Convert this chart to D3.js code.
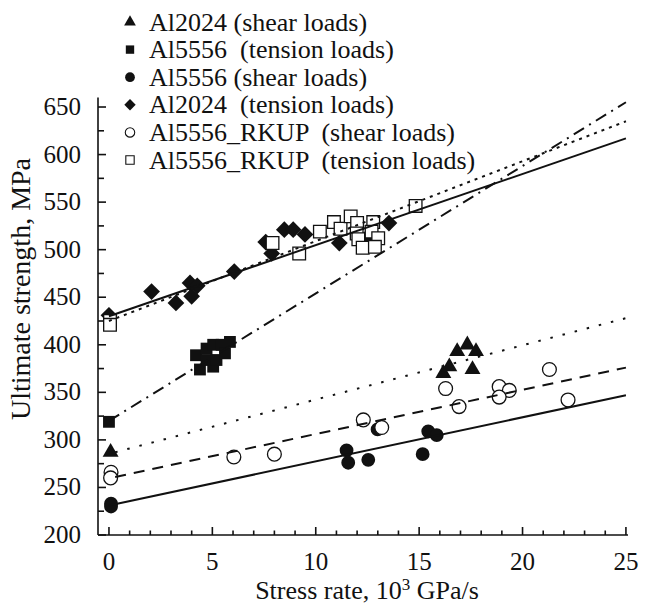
<!DOCTYPE html>
<html>
<head>
<meta charset="utf-8">
<script src="https://cdn.jsdelivr.net/npm/d3@7"></script>
<style>
  body { margin: 0; background: #fff; }
  svg text { fill: #111; }
</style>
</head>
<body>
<div id="chart"></div>
<script>
// values: [stress rate (10^3 GPa/s), ultimate strength (MPa)]
const al2024Shear = [[0.08, 287], [16.17, 370], [16.46, 377], [16.84, 393], [17.33, 400], [17.75, 393], [17.58, 374]];
const al5556Tension = [[0, 319], [4.21, 389], [4.4, 374], [4.72, 396], [4.72, 384], [5.04, 400], [5.04, 377],
  [5.2, 384], [5.45, 400], [5.61, 391], [5.85, 403]];
const al5556Shear = [[0.1, 233], [0.1, 230], [11.49, 289], [11.57, 276], [12.54, 279], [12.99, 311],
  [15.17, 285], [15.44, 309], [15.85, 305]];
const al2024Tension = [[0, 431], [2.06, 456], [3.24, 444], [3.92, 465], [4.0, 451], [4.27, 462], [6.06, 477],
  [7.58, 508], [7.87, 496], [8.48, 521], [8.91, 521], [9.48, 516], [11.14, 507], [12.54, 514], [13.54, 528]];
const rkupShear = [[0.1, 266], [0.08, 260], [6.04, 282], [8.0, 285], [12.3, 321], [13.19, 313], [16.28, 354],
  [16.93, 335], [18.87, 356], [19.36, 352], [18.87, 345], [21.3, 374], [22.2, 342]];
const rkupTension = [[0.05, 425], [0.05, 421], [7.91, 507], [9.2, 496], [10.2, 519], [10.88, 529], [11.2, 522],
  [11.69, 535], [12.0, 528], [11.98, 517], [12.06, 511], [12.27, 502], [12.78, 529], [12.7, 519],
  [13.02, 512], [12.86, 503], [14.83, 546]];

// fitted lines, end points
const fitAl2024Tension = [[0, 430], [25, 617]];
const fitRkupTension = [[0, 425], [25, 635]];
const fitAl5556Tension = [[0, 320], [25, 655]];
const fitAl2024Shear = [[0.3, 287], [25, 428]];
const fitRkupShear = [[0.3, 261], [25, 376]];
const fitAl5556Shear = [[0, 231], [25, 347]];

const legendLabels = ['Al2024 (shear loads)', 'Al5556  (tension loads)', 'Al5556 (shear loads)',
  'Al2024  (tension loads)', 'Al5556_RKUP  (shear loads)', 'Al5556_RKUP  (tension loads)'];
const xTicks = [0, 5, 10, 15, 20, 25];
const yTicks = [200, 250, 300, 350, 400, 450, 500, 550, 600, 650];

const width = 645, height = 606;
const serif = 'Tinos, "Liberation Serif", "Times New Roman", Times, "Nimbus Roman", "Nimbus Roman No9 L", FreeSerif, "Noto Serif", "DejaVu Serif", serif';
const x = d3.scaleLinear().domain([-0.53, 25.1]).range([98, 628]);
const y = d3.scaleLinear().domain([200, 660]).range([535, 97.5]);

const svg = d3.select('#chart').append('svg')
  .attr('width', width).attr('height', height)
  .style('font-family', serif);

// marker styles
const styles = [
  {data: al2024Shear, type: d3.symbolTriangle, size: 110, fill: '#111', stroke: 'none', rot: 0, lsize: 60},
  {data: al5556Tension, type: d3.symbolSquare, size: 140, fill: '#111', stroke: 'none', rot: 0, lsize: 70},
  {data: al5556Shear, type: d3.symbolCircle, size: 150, fill: '#111', stroke: 'none', rot: 0, lsize: 75},
  {data: al2024Tension, type: d3.symbolSquare, size: 140, fill: '#111', stroke: 'none', rot: 45, lsize: 65},
  {data: rkupShear, type: d3.symbolCircle, size: 150, fill: '#fff', stroke: '#111', rot: 0, lsize: 70},
  {data: rkupTension, type: d3.symbolSquare, size: 160, fill: '#fff', stroke: '#111', rot: 0, lsize: 70}
];

// axes
const axes = svg.append('g').attr('stroke', '#111').attr('stroke-width', 1.6);
axes.append('line').attr('x1', x.range()[0]).attr('x2', x.range()[1])
  .attr('y1', y(200)).attr('y2', y(200));
axes.append('line').attr('x1', x.range()[0]).attr('x2', x.range()[0])
  .attr('y1', y(200)).attr('y2', y.range()[1]);

axes.selectAll('.xt').data(d3.range(0, 26, 1)).enter().append('line')
  .attr('x1', d => x(d)).attr('x2', d => x(d))
  .attr('y1', y(200)).attr('y2', d => y(200) - (d % 5 === 0 ? 8 : 4.5));
axes.selectAll('.yt').data(d3.range(200, 651, 25)).enter().append('line')
  .attr('y1', d => y(d)).attr('y2', d => y(d))
  .attr('x1', x.range()[0]).attr('x2', d => x.range()[0] + (d % 50 === 0 ? 8 : 6));

svg.selectAll('.xl').data(xTicks).enter().append('text')
  .attr('x', d => x(d)).attr('y', 570)
  .attr('text-anchor', 'middle').attr('font-size', 25).text(d => d);
svg.selectAll('.yl').data(yTicks).enter().append('text')
  .attr('x', 81).attr('y', d => y(d) + 8)
  .attr('text-anchor', 'end').attr('font-size', 25).text(d => d);

const xt = svg.append('text').attr('x', 367).attr('y', 599)
  .attr('text-anchor', 'middle').attr('font-size', 26);
xt.append('tspan').text('Stress rate, 10');
xt.append('tspan').attr('dy', -9).attr('font-size', 17).text('3');
xt.append('tspan').attr('dy', 9).text(' GPa/s');

svg.append('text').attr('transform', 'translate(30,289) rotate(-90)')
  .attr('text-anchor', 'middle').attr('font-size', 28).text('Ultimate strength, MPa');

// data markers
styles.forEach(s => {
  const sym = d3.symbol().type(s.type).size(s.size);
  svg.append('g').selectAll('path').data(s.data).enter().append('path')
    .attr('d', sym)
    .attr('transform', d => `translate(${x(d[0])},${y(d[1])}) rotate(${s.rot})`)
    .attr('fill', s.fill).attr('stroke', s.stroke).attr('stroke-width', 1.3);
});

// fit lines
const line = d3.line().x(d => x(d[0])).y(d => y(d[1]));
const fits = [
  {data: fitAl2024Tension, dash: null},
  {data: fitRkupTension, dash: '3,5'},
  {data: fitAl5556Tension, dash: '12,6,2,6'},
  {data: fitAl2024Shear, dash: '2.5,10'},
  {data: fitRkupShear, dash: '11,8'},
  {data: fitAl5556Shear, dash: null}
];
svg.append('g').selectAll('path').data(fits).enter().append('path')
  .attr('d', d => line(d.data))
  .attr('fill', 'none').attr('stroke', '#111').attr('stroke-width', 2)
  .attr('stroke-dasharray', d => d.dash);

// legend
const leg = svg.append('g');
legendLabels.forEach((lab, i) => {
  const s = styles[i];
  const cy = 22 + i * 27.6;
  leg.append('path').attr('d', d3.symbol().type(s.type).size(s.lsize))
    .attr('transform', `translate(130,${cy}) rotate(${s.rot})`)
    .attr('fill', s.fill).attr('stroke', s.stroke).attr('stroke-width', 1.1);
  leg.append('text').attr('x', 149).attr('y', cy + 8.5)
    .attr('font-size', 26).style('white-space', 'pre').text(lab);
});
</script>
</body>
</html>
